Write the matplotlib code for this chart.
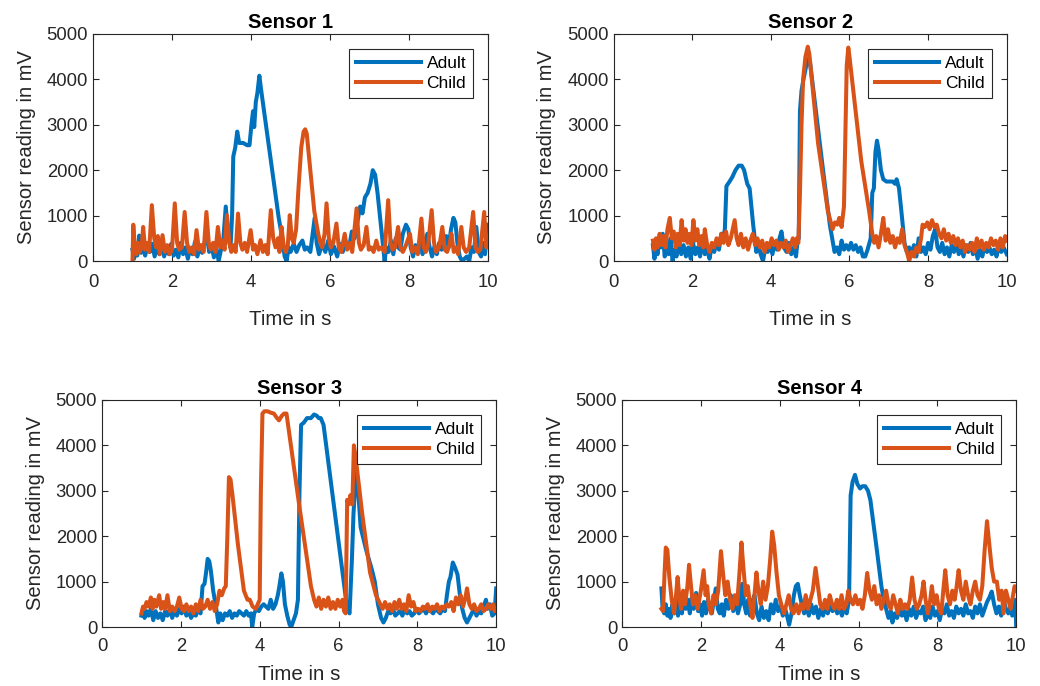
import numpy as np
import matplotlib
matplotlib.use("Agg")
import matplotlib.pyplot as plt

plt.rcParams['font.family'] = ['Liberation Sans', 'DejaVu Sans']

# (time in s, reading in mV)
s1_adult = [(1.00,250),(1.04,50),(1.08,380),(1.12,120),(1.17,560),(1.22,180),(1.27,420),(1.32,120),(1.38,330),(1.44,200),(1.50,380),(1.56,100),(1.62,300),(1.68,150),(1.74,420),(1.80,100),(1.86,280),(1.92,150),(1.98,380),(2.04,120),(2.10,250),(2.16,80),(2.22,400),(2.28,150),(2.34,300),(2.40,50),(2.46,280),(2.52,150),(2.58,420),(2.64,100),(2.70,320),(2.76,180),(2.82,380),(2.88,600),(2.94,200),(3.00,350),(3.06,80),(3.12,300),(3.18,0),(3.24,250),(3.30,500),(3.36,1200),(3.42,550),(3.48,300),(3.52,1000),(3.55,2300),(3.60,2500),(3.65,2850),(3.70,2600),(3.80,2600),(3.90,2550),(3.96,2550),(4.01,3000),(4.05,3300),(4.08,2950),(4.12,3500),(4.16,3700),(4.21,4080),(4.25,3800),(4.70,950),(4.78,550),(4.85,100),(4.90,0),(4.95,300),(5.00,200),(5.08,380),(5.15,200),(5.22,350),(5.30,450),(5.36,250),(5.42,300),(5.50,200),(5.56,600),(5.61,950),(5.66,400),(5.72,150),(5.80,380),(5.88,200),(5.95,450),(6.02,150),(6.10,320),(6.18,100),(6.25,380),(6.32,200),(6.40,420),(6.48,300),(6.55,650),(6.62,500),(6.70,900),(6.76,1200),(6.82,1050),(6.88,1400),(6.95,1500),(7.02,1700),(7.08,2000),(7.14,1900),(7.20,1500),(7.38,0),(7.42,300),(7.48,200),(7.54,450),(7.60,150),(7.66,500),(7.72,300),(7.78,250),(7.84,600),(7.92,800),(7.98,700),(8.04,300),(8.10,100),(8.16,350),(8.22,200),(8.28,450),(8.34,150),(8.40,350),(8.46,600),(8.52,300),(8.58,100),(8.64,320),(8.70,150),(8.76,400),(8.82,250),(8.88,350),(8.94,550),(9.00,300),(9.06,700),(9.12,950),(9.17,850),(9.22,400),(9.28,100),(9.34,0),(9.40,50),(9.46,100),(9.52,0),(9.58,300),(9.64,200),(9.70,750),(9.76,200),(9.82,100),(9.87,400),(9.92,150),(9.96,500),(10.00,800)]
s1_child = [(1.00,0),(1.02,800),(1.06,300),(1.10,150),(1.14,400),(1.18,200),(1.23,300),(1.27,750),(1.32,250),(1.37,400),(1.42,200),(1.49,1230),(1.55,500),(1.60,300),(1.64,550),(1.69,150),(1.76,570),(1.82,200),(1.88,350),(1.94,150),(2.00,250),(2.07,1270),(2.13,400),(2.18,250),(2.25,300),(2.32,1080),(2.38,400),(2.44,200),(2.50,300),(2.56,150),(2.62,680),(2.68,250),(2.74,350),(2.80,200),(2.87,1080),(2.93,400),(2.98,250),(3.04,400),(3.10,200),(3.16,750),(3.22,300),(3.28,450),(3.33,250),(3.39,1010),(3.45,400),(3.50,200),(3.56,350),(3.61,200),(3.67,1045),(3.73,400),(3.78,250),(3.84,400),(3.90,200),(3.99,680),(4.05,250),(4.10,350),(4.16,150),(4.24,460),(4.30,200),(4.36,350),(4.42,150),(4.50,1120),(4.56,500),(4.62,300),(4.68,500),(4.72,200),(4.77,750),(4.83,300),(4.88,200),(4.93,350),(4.98,1010),(5.03,500),(5.08,400),(5.14,700),(5.20,1600),(5.27,2500),(5.33,2850),(5.37,2900),(5.41,2800),(5.50,2000),(5.60,1100),(5.70,600),(5.74,450),(5.80,300),(5.86,600),(5.91,1270),(5.97,500),(6.02,300),(6.08,400),(6.16,825),(6.22,300),(6.28,200),(6.37,600),(6.43,250),(6.50,400),(6.56,200),(6.67,1160),(6.73,400),(6.78,250),(6.85,350),(6.92,750),(6.98,250),(7.04,300),(7.10,200),(7.17,450),(7.23,250),(7.30,300),(7.38,200),(7.47,1340),(7.53,400),(7.58,250),(7.64,300),(7.72,750),(7.78,300),(7.84,200),(7.92,350),(8.02,600),(8.08,200),(8.14,300),(8.22,150),(8.31,935),(8.37,300),(8.42,200),(8.48,350),(8.57,1120),(8.63,400),(8.68,200),(8.76,300),(8.84,750),(8.90,250),(8.96,200),(9.02,350),(9.07,600),(9.13,200),(9.18,300),(9.24,150),(9.32,750),(9.38,300),(9.44,200),(9.52,300),(9.62,1080),(9.68,300),(9.74,200),(9.80,250),(9.90,1080),(9.95,300),(10.00,550)]

s2_adult = [(1.00,350),(1.04,50),(1.08,450),(1.12,150),(1.16,500),(1.20,300),(1.25,600),(1.30,100),(1.35,350),(1.40,150),(1.45,500),(1.50,0),(1.55,250),(1.60,100),(1.66,450),(1.72,150),(1.78,350),(1.84,100),(1.90,300),(1.96,50),(2.02,400),(2.08,150),(2.14,300),(2.20,100),(2.26,500),(2.32,150),(2.38,250),(2.44,50),(2.50,350),(2.56,200),(2.62,450),(2.68,250),(2.74,600),(2.80,550),(2.83,700),(2.87,1650),(2.95,1750),(3.02,1850),(3.10,2000),(3.18,2100),(3.26,2100),(3.32,2000),(3.40,1700),(3.46,1600),(3.55,800),(3.63,200),(3.68,400),(3.74,150),(3.80,0),(3.86,300),(3.92,200),(3.98,350),(4.04,150),(4.10,400),(4.16,250),(4.22,500),(4.27,650),(4.33,300),(4.40,200),(4.46,400),(4.52,150),(4.58,300),(4.64,100),(4.68,450),(4.71,500),(4.74,3300),(4.78,3750),(4.83,4000),(4.90,4300),(4.96,4450),(5.00,4350),(5.30,2200),(5.50,800),(5.57,450),(5.62,200),(5.68,300),(5.74,150),(5.80,450),(5.86,250),(5.92,350),(5.98,250),(6.04,400),(6.10,250),(6.16,350),(6.22,200),(6.28,300),(6.34,100),(6.40,100),(6.46,250),(6.54,500),(6.58,1500),(6.62,1600),(6.66,2400),(6.70,2650),(6.74,2450),(6.80,2000),(6.86,1800),(6.94,1750),(7.02,1750),(7.10,1750),(7.16,1700),(7.20,1800),(7.26,1600),(7.32,1100),(7.40,400),(7.46,200),(7.52,300),(7.58,150),(7.64,350),(7.70,100),(7.76,500),(7.82,200),(7.88,300),(7.94,150),(8.00,400),(8.06,250),(8.12,550),(8.18,700),(8.24,300),(8.30,200),(8.36,400),(8.42,150),(8.48,300),(8.54,100),(8.60,350),(8.66,200),(8.72,400),(8.78,150),(8.84,300),(8.90,100),(8.96,350),(9.02,200),(9.08,400),(9.14,150),(9.20,300),(9.26,50),(9.32,250),(9.38,100),(9.44,350),(9.50,200),(9.56,300),(9.62,150),(9.68,250),(9.74,100),(9.80,350),(9.86,200),(9.92,300),(10.00,150)]
s2_child = [(1.00,450),(1.04,250),(1.08,500),(1.12,300),(1.17,600),(1.22,350),(1.27,550),(1.32,300),(1.37,700),(1.43,950),(1.48,500),(1.53,650),(1.58,300),(1.63,600),(1.68,350),(1.73,900),(1.78,450),(1.83,700),(1.88,400),(1.93,600),(1.98,350),(2.03,900),(2.08,450),(2.13,700),(2.18,350),(2.24,550),(2.28,300),(2.32,700),(2.38,350),(2.44,200),(2.50,400),(2.56,300),(2.62,500),(2.68,350),(2.74,600),(2.80,400),(2.86,650),(2.92,350),(2.98,500),(3.03,700),(3.08,900),(3.13,500),(3.18,350),(3.24,600),(3.30,300),(3.36,500),(3.42,250),(3.48,450),(3.54,600),(3.60,350),(3.66,500),(3.72,300),(3.78,450),(3.84,200),(3.90,400),(3.96,300),(4.02,500),(4.08,350),(4.14,450),(4.20,250),(4.26,400),(4.32,300),(4.38,450),(4.44,200),(4.50,350),(4.56,500),(4.62,300),(4.66,500),(4.70,400),(4.74,1500),(4.78,3000),(4.82,4000),(4.88,4500),(4.94,4720),(4.98,4550),(5.20,2600),(5.45,1100),(5.57,700),(5.63,850),(5.69,800),(5.74,950),(5.80,750),(5.86,1200),(5.90,3000),(5.93,4300),(5.97,4700),(6.00,4500),(6.30,2200),(6.50,1100),(6.58,600),(6.63,400),(6.68,550),(6.74,300),(6.80,600),(6.86,950),(6.92,450),(6.98,700),(7.04,400),(7.10,550),(7.16,300),(7.22,500),(7.28,400),(7.34,700),(7.40,350),(7.46,200),(7.52,0),(7.58,200),(7.64,100),(7.70,300),(7.76,200),(7.82,500),(7.86,800),(7.92,750),(7.98,850),(8.04,700),(8.10,900),(8.16,750),(8.22,800),(8.28,600),(8.34,500),(8.40,700),(8.46,450),(8.52,600),(8.58,400),(8.64,550),(8.70,350),(8.76,500),(8.82,300),(8.88,450),(8.94,200),(9.00,350),(9.06,250),(9.12,400),(9.18,200),(9.24,500),(9.30,300),(9.36,450),(9.42,250),(9.48,400),(9.54,300),(9.60,500),(9.66,350),(9.72,450),(9.78,250),(9.84,500),(9.90,300),(9.96,550),(10.00,450)]

s3_adult = [(1.00,250),(1.04,400),(1.08,200),(1.13,350),(1.18,250),(1.24,400),(1.30,150),(1.36,350),(1.42,200),(1.48,300),(1.54,150),(1.60,350),(1.66,250),(1.72,400),(1.78,200),(1.84,350),(1.90,250),(1.96,400),(2.02,300),(2.08,450),(2.14,250),(2.20,350),(2.26,200),(2.32,300),(2.38,250),(2.44,400),(2.50,300),(2.55,900),(2.60,950),(2.64,1200),(2.68,1500),(2.72,1450),(2.76,1250),(2.82,800),(2.89,450),(2.95,100),(3.00,300),(3.06,150),(3.12,300),(3.18,250),(3.24,350),(3.30,200),(3.36,300),(3.42,250),(3.48,350),(3.54,300),(3.60,250),(3.66,350),(3.72,250),(3.78,300),(3.81,0),(3.86,300),(3.92,400),(3.98,350),(4.04,450),(4.10,500),(4.16,450),(4.22,400),(4.28,600),(4.34,400),(4.40,500),(4.46,700),(4.50,900),(4.55,1180),(4.59,1000),(4.64,500),(4.70,250),(4.76,50),(4.80,0),(4.86,150),(4.92,300),(4.97,600),(5.01,3000),(5.05,4450),(5.12,4500),(5.20,4600),(5.30,4600),(5.38,4680),(5.45,4650),(5.50,4600),(5.55,4600),(5.62,4450),(6.22,400),(6.28,300),(6.34,1500),(6.38,2500),(6.45,3500),(6.50,3000),(6.56,2200),(6.70,1700),(6.85,1250),(6.92,1000),(7.00,500),(7.08,200),(7.14,100),(7.20,200),(7.26,350),(7.32,300),(7.38,400),(7.44,250),(7.50,300),(7.56,350),(7.62,250),(7.68,400),(7.74,300),(7.80,350),(7.86,250),(7.92,300),(7.98,400),(8.04,300),(8.10,350),(8.16,400),(8.22,300),(8.28,400),(8.34,350),(8.40,300),(8.46,400),(8.52,350),(8.58,300),(8.64,400),(8.70,350),(8.75,700),(8.80,1000),(8.84,1100),(8.90,1420),(8.96,1300),(9.02,1150),(9.08,700),(9.14,400),(9.20,200),(9.26,100),(9.32,200),(9.38,300),(9.44,400),(9.50,250),(9.56,350),(9.62,300),(9.68,450),(9.74,600),(9.78,400),(9.84,500),(9.90,250),(9.96,300),(10.00,850)]
s3_child = [(1.00,300),(1.04,450),(1.08,400),(1.13,550),(1.18,450),(1.24,650),(1.28,400),(1.33,600),(1.38,450),(1.45,700),(1.50,400),(1.55,550),(1.60,400),(1.66,700),(1.72,350),(1.78,450),(1.84,350),(1.90,450),(1.96,650),(2.02,400),(2.08,350),(2.14,500),(2.20,350),(2.26,450),(2.32,300),(2.38,500),(2.44,350),(2.50,600),(2.56,400),(2.62,450),(2.68,600),(2.74,400),(2.80,550),(2.86,350),(2.92,500),(2.98,800),(3.04,700),(3.10,850),(3.14,900),(3.18,2000),(3.22,3300),(3.26,3250),(3.31,2900),(3.45,1800),(3.60,800),(3.69,600),(3.75,600),(3.82,450),(3.90,400),(3.95,500),(4.00,600),(4.03,3000),(4.07,4700),(4.12,4750),(4.20,4750),(4.28,4720),(4.36,4700),(4.44,4600),(4.49,4550),(4.56,4650),(4.62,4700),(4.68,4700),(5.00,2700),(5.30,900),(5.38,600),(5.44,450),(5.50,650),(5.56,400),(5.62,600),(5.68,450),(5.74,650),(5.80,400),(5.86,550),(5.92,400),(5.98,600),(6.04,450),(6.10,600),(6.14,350),(6.18,300),(6.22,2800),(6.26,2700),(6.30,2900),(6.35,2700),(6.39,4000),(6.44,3700),(6.60,2500),(6.80,1200),(6.95,700),(7.06,500),(7.12,400),(7.18,550),(7.24,400),(7.30,500),(7.36,350),(7.42,550),(7.48,400),(7.54,600),(7.60,400),(7.66,500),(7.72,350),(7.78,700),(7.84,450),(7.90,550),(7.96,350),(8.02,400),(8.08,350),(8.14,450),(8.20,400),(8.26,500),(8.32,350),(8.38,450),(8.44,400),(8.50,500),(8.56,350),(8.62,450),(8.68,400),(8.74,500),(8.80,450),(8.86,550),(8.92,350),(8.98,650),(9.04,500),(9.10,700),(9.16,450),(9.22,650),(9.26,850),(9.32,500),(9.38,400),(9.44,500),(9.50,350),(9.56,400),(9.62,500),(9.68,350),(9.74,400),(9.80,500),(9.86,400),(9.92,500),(9.96,350),(10.00,400)]

s4_adult = [(1.00,850),(1.03,400),(1.07,300),(1.11,500),(1.15,250),(1.19,400),(1.23,200),(1.28,500),(1.32,300),(1.37,600),(1.42,250),(1.47,550),(1.52,300),(1.57,700),(1.62,400),(1.67,600),(1.72,300),(1.77,650),(1.82,400),(1.88,750),(1.93,350),(1.98,500),(2.03,250),(2.08,550),(2.13,300),(2.18,600),(2.23,400),(2.28,300),(2.33,600),(2.38,850),(2.43,400),(2.48,300),(2.53,500),(2.58,250),(2.64,600),(2.70,400),(2.76,700),(2.82,350),(2.88,600),(2.94,300),(3.00,500),(3.05,950),(3.10,500),(3.15,300),(3.20,600),(3.25,250),(3.30,550),(3.36,700),(3.42,300),(3.48,150),(3.54,450),(3.60,200),(3.66,350),(3.72,150),(3.78,500),(3.84,300),(3.90,600),(3.96,350),(4.02,450),(4.08,250),(4.14,400),(4.20,200),(4.24,50),(4.30,300),(4.36,700),(4.41,900),(4.46,950),(4.51,700),(4.56,500),(4.62,300),(4.68,450),(4.74,250),(4.80,500),(4.86,300),(4.92,450),(4.98,200),(5.04,400),(5.10,250),(5.16,450),(5.22,300),(5.28,500),(5.34,350),(5.40,450),(5.46,300),(5.52,400),(5.58,250),(5.64,450),(5.70,300),(5.76,600),(5.80,2900),(5.85,3200),(5.91,3350),(5.97,3150),(6.04,3050),(6.10,3100),(6.17,3100),(6.24,3000),(6.30,2800),(6.45,1800),(6.58,900),(6.64,600),(6.70,400),(6.76,200),(6.82,350),(6.86,100),(6.92,300),(6.98,200),(7.04,400),(7.10,250),(7.16,350),(7.22,150),(7.28,400),(7.34,250),(7.40,450),(7.46,200),(7.52,350),(7.58,300),(7.64,450),(7.70,150),(7.76,300),(7.82,200),(7.88,450),(7.94,250),(8.00,350),(8.06,150),(8.12,400),(8.18,300),(8.24,500),(8.30,250),(8.36,350),(8.42,200),(8.48,450),(8.54,300),(8.60,400),(8.66,250),(8.72,500),(8.78,300),(8.84,350),(8.90,200),(8.96,450),(9.02,300),(9.08,500),(9.14,250),(9.20,400),(9.26,550),(9.32,650),(9.38,780),(9.44,500),(9.50,300),(9.56,450),(9.62,250),(9.68,600),(9.74,400),(9.80,300),(9.86,450),(9.90,250),(9.95,350),(9.98,600),(10.00,0)]
s4_child = [(1.00,400),(1.04,350),(1.08,1200),(1.11,1750),(1.15,1700),(1.20,1100),(1.26,600),(1.32,300),(1.37,700),(1.41,1100),(1.46,600),(1.50,400),(1.55,800),(1.60,500),(1.66,900),(1.70,1370),(1.75,900),(1.80,500),(1.86,700),(1.92,400),(2.00,800),(2.07,1250),(2.12,700),(2.16,900),(2.20,500),(2.26,300),(2.32,700),(2.38,500),(2.44,800),(2.51,1670),(2.56,1200),(2.62,700),(2.68,1000),(2.74,600),(2.80,400),(2.86,700),(2.92,500),(2.98,1200),(3.03,1860),(3.08,1300),(3.14,700),(3.19,900),(3.25,500),(3.31,200),(3.36,700),(3.41,1200),(3.46,800),(3.52,500),(3.58,1000),(3.64,600),(3.70,900),(3.76,1500),(3.81,2100),(3.86,1800),(3.92,1200),(3.98,700),(4.04,500),(4.11,300),(4.17,500),(4.23,700),(4.29,400),(4.35,300),(4.42,500),(4.48,300),(4.54,500),(4.60,400),(4.66,700),(4.72,400),(4.78,600),(4.84,800),(4.91,1300),(4.97,900),(5.03,500),(5.09,400),(5.15,600),(5.21,400),(5.27,700),(5.33,500),(5.39,400),(5.45,600),(5.51,400),(5.57,700),(5.63,400),(5.69,500),(5.74,800),(5.80,600),(5.86,500),(5.92,700),(5.98,500),(6.04,600),(6.10,400),(6.16,700),(6.22,1190),(6.28,800),(6.34,600),(6.40,900),(6.46,500),(6.52,700),(6.58,400),(6.64,600),(6.70,800),(6.76,500),(6.82,400),(6.88,700),(6.94,500),(7.00,300),(7.06,600),(7.12,400),(7.18,500),(7.24,400),(7.30,600),(7.36,1090),(7.42,600),(7.48,400),(7.54,500),(7.60,700),(7.65,1000),(7.70,600),(7.76,300),(7.82,600),(7.86,900),(7.92,500),(7.98,700),(8.04,400),(8.10,300),(8.15,800),(8.20,1250),(8.26,700),(8.32,500),(8.38,800),(8.44,600),(8.49,900),(8.54,1250),(8.60,800),(8.66,600),(8.72,1000),(8.78,700),(8.84,500),(8.90,800),(8.96,1000),(9.02,700),(9.08,600),(9.14,900),(9.20,1700),(9.26,2330),(9.32,1800),(9.38,1300),(9.44,1000),(9.51,1000),(9.57,600),(9.63,800),(9.68,300),(9.74,800),(9.80,600),(9.86,400),(9.92,700),(9.96,900),(10.00,800)]

titles = ["Sensor 1", "Sensor 2", "Sensor 3", "Sensor 4"]
adult = [s1_adult, s2_adult, s3_adult, s4_adult]
child = [s1_child, s2_child, s3_child, s4_child]
labels = ["Adult", "Child"]

BLUE = "#0072BD"
ORANGE = "#D95319"
AXC = "#262626"

fig = plt.figure(figsize=(10.4, 6.86), dpi=100)
# axes rectangles in figure fraction (left, bottom, width, height)
rects = [(0.0894, 0.6195, 0.380, 0.331),
         (0.5900, 0.6195, 0.378, 0.331),
         (0.0981, 0.0860, 0.379, 0.331),
         (0.5981, 0.0860, 0.379, 0.331)]
# the bottom row sits tighter to the figure edge
xlabel_pads = [14, 14, 7, 7]
xtick_pads = [9, 9, 8, 8]

for i in range(4):
    ax = fig.add_axes(rects[i])
    a = np.array(adult[i]).T
    c = np.array(child[i]).T
    ax.plot(a[0], a[1], color=BLUE, lw=2.9, label=labels[0], solid_joinstyle='round')
    ax.plot(c[0], c[1], color=ORANGE, lw=2.9, label=labels[1], solid_joinstyle='round')
    ax.set_xlim(0, 10)
    ax.set_ylim(0, 5000)
    ax.set_xticks([0, 2, 4, 6, 8, 10])
    ax.set_yticks([0, 1000, 2000, 3000, 4000, 5000])
    ax.tick_params(direction='in', top=True, right=True, length=4, width=0.8,
                   colors=AXC, labelsize=13.3, labelcolor=AXC)
    ax.tick_params(axis='y', pad=3.5)
    ax.tick_params(axis='x', pad=xtick_pads[i])
    for sp in ax.spines.values():
        sp.set_color(AXC)
        sp.set_linewidth(0.8)
    ax.set_title(titles[i], fontsize=14.5, fontweight='bold', pad=4, color='black')
    ax.set_xlabel("Time in s", fontsize=14.8, color=AXC, labelpad=xlabel_pads[i])
    ax.set_ylabel("Sensor reading in mV", fontsize=14.5, color=AXC, labelpad=8)
    leg = ax.legend(loc='upper right', bbox_to_anchor=(0.962, 0.934), borderaxespad=0,
                    fontsize=12.5, handlelength=3.7, fancybox=False, framealpha=1,
                    edgecolor=AXC, borderpad=0.4, labelspacing=0.3, handletextpad=0.35)
    leg.get_frame().set_linewidth(0.8)

fig.savefig("out.png", dpi=100)
